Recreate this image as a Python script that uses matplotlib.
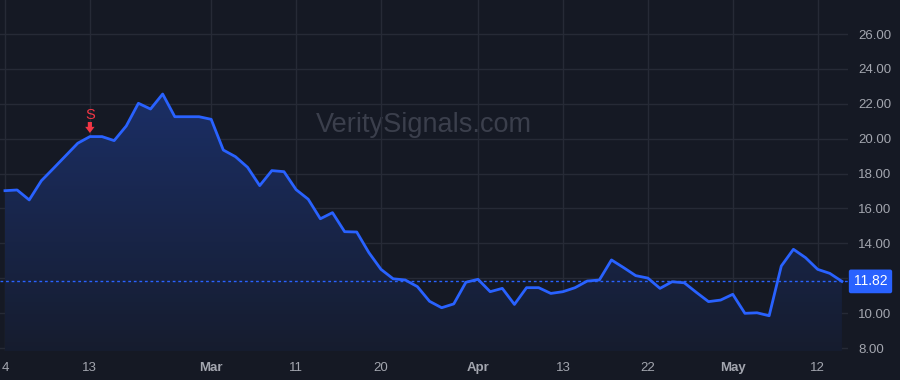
import matplotlib
matplotlib.use('Agg')
import matplotlib.pyplot as plt
import numpy as np

plt.rcParams['font.family'] = ['Liberation Sans', 'DejaVu Sans']

# daily closes, one per trading session
values = [
    17.02, 17.06, 16.49, 17.59, 18.30, 19.02, 19.74, 20.12, 20.12, 19.89,
    20.73, 22.03, 21.70, 22.56, 21.26, 21.26, 21.26, 21.11, 19.35, 18.97,
    18.36, 17.31, 18.17, 18.11, 17.08, 16.53, 15.41, 15.76, 14.67, 14.65,
    13.47, 12.51, 11.97, 11.90, 11.52, 10.68, 10.31, 10.53, 11.77, 11.94,
    11.23, 11.42, 10.50, 11.46, 11.46, 11.13, 11.23, 11.46, 11.84, 11.90,
    13.05, 12.61, 12.15, 12.01, 11.42, 11.80, 11.74, 11.19, 10.66, 10.75,
    11.08, 9.99, 10.02, 9.85, 12.70, 13.66, 13.18, 12.51, 12.28, 11.82,
]
tick_index = [0, 7, 17, 24, 31, 39, 46, 53, 60, 67]
tick_labels = ['4', '13', 'Mar', '11', '20', 'Apr', '13', '22', 'May', '12']
month_labels = ['Mar', 'Apr', 'May']
y_ticks = [8, 10, 12, 14, 16, 18, 20, 22, 24, 26]
last_price = 11.82
signal_index = 7
signal_text = 'S'
watermark = 'VeritySignals.com'

bg = '#151924'
grid = '#262a36'
blue = '#2962ff'
red = '#f23645'
txt = '#a3a6af'

x = np.arange(len(values))
y = np.array(values)

fig = plt.figure(figsize=(9, 3.8), dpi=100, facecolor=bg)
ax = fig.add_axes([0, 29 / 380, 848 / 900, 351 / 380], facecolor=bg)

ax.set_xlim(-0.41, 69.5)
ax.set_ylim(7.83, 27.95)

# gradient fill under the line
poly = ax.fill_between(x, y, 7.83, color='none', lw=0)
grad = np.linspace(0.05, 0.30, 256).reshape(-1, 1)
cmap = matplotlib.colors.LinearSegmentedColormap.from_list(
    'g', [(0.082, 0.098, 0.141), (0.16, 0.38, 1.0)])
img = ax.imshow(grad, cmap=cmap, vmin=0, vmax=1, aspect='auto', origin='lower',
                extent=[x[0], x[-1], 7.83, y.max()], zorder=1)
img.set_clip_path(poly.get_paths()[0], transform=ax.transData)

ax.plot(x, y, color=blue, lw=2, zorder=3, solid_joinstyle='round')

ax.axhline(last_price, color=blue, lw=1, ls=(0, (2, 2)), zorder=2)

for s in ax.spines.values():
    s.set_visible(False)
ax.set_yticks(y_ticks)
# the price tag covers the tick label closest to it
ax.set_yticklabels(['' if abs(v - last_price) < 1 else f'{v:.2f}' for v in y_ticks])
ax.set_xticks(tick_index)
ax.set_xticklabels(tick_labels)
ax.yaxis.tick_right()
ax.tick_params(axis='both', length=0, colors=txt, labelsize=9.5)
ax.tick_params(axis='y', pad=7.5)
ax.tick_params(axis='x', pad=8)
for lab in ax.get_xticklabels():
    if lab.get_text() in month_labels:
        lab.set_fontweight('bold')
ax.grid(True, color=grid, lw=1, zorder=0)
ax.set_axisbelow(True)

ax.text(0.5, 0.645, watermark, transform=ax.transAxes, ha='center', va='center',
        fontsize=19.5, color='#3b3f4c', zorder=0)

# signal marker
ax.annotate('', xy=(signal_index, values[signal_index]), xytext=(0, 10.5),
            textcoords='offset points',
            arrowprops=dict(arrowstyle='simple,head_length=0.34,head_width=0.52,tail_width=0.23',
                            mutation_scale=13, color=red, lw=0, shrinkA=0, shrinkB=2.6))
ax.annotate(signal_text, xy=(signal_index, values[signal_index]), xytext=(0, 15.8),
            textcoords='offset points', ha='center', va='center',
            color=red, fontsize=10.5)

# last price label
ax.annotate(f'{last_price:.2f}', xy=(1, last_price), xycoords=('axes fraction', 'data'),
            xytext=(22.5, 0), textcoords='offset pixels', ha='center', va='center',
            color='white', fontsize=10,
            bbox=dict(boxstyle='round,pad=0.35,rounding_size=0.15', fc=blue, ec='none'),
            annotation_clip=False)

fig.savefig('out.png', dpi=100, facecolor=bg)
